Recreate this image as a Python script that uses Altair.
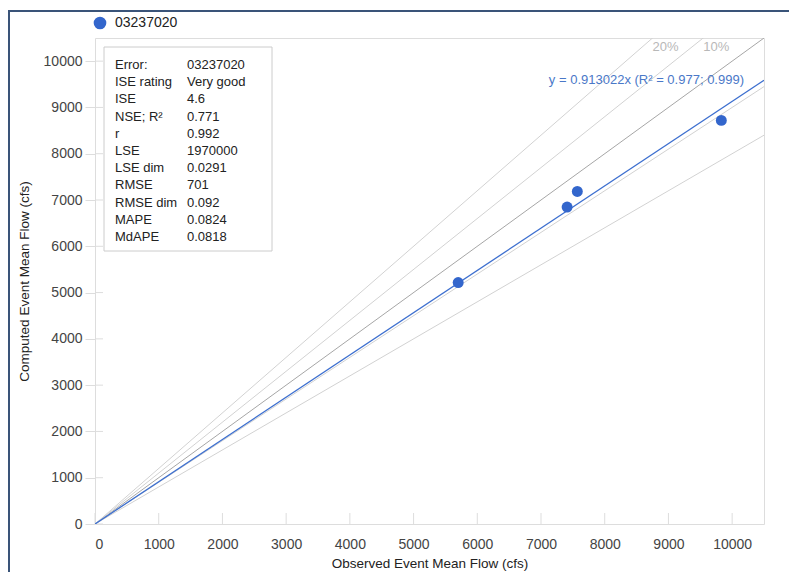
import altair as alt
import pandas as pd

# ---------------- data ----------------
site = "03237020"
observed = [5700, 7410, 7570, 9830]
computed = [5217, 6848, 7185, 8720]

ref_slopes = [0.8, 0.9, 1.0, 1.1, 1.2]
ref_colors = ["#d2d2d2", "#d2d2d2", "#a6a6a6", "#d2d2d2", "#d2d2d2"]
pct_slopes = [1.2, 1.1]
pct_labels = ["20%", "10%"]

fit_slope = 0.913022
fit_label = "y = 0.913022x (R\u00b2 = 0.977; 0.999)"

axis_max = 10500
tick_values = [0, 1000, 2000, 3000, 4000, 5000, 6000, 7000, 8000, 9000, 10000]

stat_names = ["Error:", "ISE rating", "ISE", "NSE; R\u00b2", "r", "LSE", "LSE dim",
              "RMSE", "RMSE dim", "MAPE", "MdAPE"]
stat_values = ["03237020", "Very good", "4.6", "0.771", "0.992", "1970000", "0.0291",
               "701", "0.092", "0.0824", "0.0818"]

# ---------------- tables ----------------
pts = pd.DataFrame({"obs": observed, "comp": computed, "site": [site] * len(observed)})

line_rows = []
for s, c in zip(ref_slopes, ref_colors):
    line_rows.append({"slope": s, "obs": 0, "comp": 0, "lc": c})
    line_rows.append({"slope": s, "obs": axis_max, "comp": s * axis_max, "lc": c})
lines = pd.DataFrame(line_rows)

fit = pd.DataFrame({"obs": [0, axis_max], "comp": [0, fit_slope * axis_max]})
fit_lab = pd.DataFrame({"obs": [axis_max], "comp": [fit_slope * axis_max], "t": [fit_label]})
pct = pd.DataFrame({"obs": [axis_max / s for s in pct_slopes],
                    "comp": [axis_max] * len(pct_slopes), "t": pct_labels})
ticks_df = pd.DataFrame({"v": tick_values})
stats = pd.DataFrame({"row": list(range(len(stat_names))), "name": stat_names, "val": stat_values})
one = pd.DataFrame({"a": [0]})

FONT = "Arial"
xs = alt.Scale(domain=[0, axis_max], nice=False, zero=False)
ys = alt.Scale(domain=[0, axis_max], nice=False, zero=False)

x_axis = alt.Axis(values=tick_values, format="d", title="Observed Event Mean Flow (cfs)",
                  grid=False, domain=False, ticks=False, labelPadding=13, labelFontSize=14,
                  labelColor="#444444", titleFontSize=13.5, titleFontWeight="normal",
                  titleColor="#222222", titlePadding=5, labelFont=FONT, titleFont=FONT)
y_axis = alt.Axis(values=tick_values, format="d", title="Computed Event Mean Flow (cfs)",
                  grid=False, domain=False, ticks=True, tickSize=10, tickColor="#dddddd",
                  labelPadding=3, labelFontSize=14, labelColor="#444444",
                  titleFontSize=13.5, titleFontWeight="normal", titleColor="#222222",
                  titlePadding=12, labelFont=FONT, titleFont=FONT)

X = alt.X("obs:Q", scale=xs, axis=x_axis)
Y = alt.Y("comp:Q", scale=ys, axis=y_axis)

ref_layer = alt.Chart(lines).mark_line(clip=True, strokeWidth=1).encode(
    x=X, y=Y, detail="slope:N", stroke=alt.Stroke("lc:N", scale=None))

fit_layer = alt.Chart(fit).mark_line(clip=True, strokeWidth=1.3, color="#3d6fcf").encode(
    x=alt.X("obs:Q", scale=xs), y=alt.Y("comp:Q", scale=ys))

pt_layer = alt.Chart(pts).mark_point(filled=True, size=120, opacity=1).encode(
    x=alt.X("obs:Q", scale=xs), y=alt.Y("comp:Q", scale=ys),
    color=alt.Color("site:N", scale=alt.Scale(range=["#3366cc"]),
                    legend=alt.Legend(orient="none", legendX=-2, legendY=-22, title=None,
                                      symbolType="circle", symbolSize=160, labelFontSize=14,
                                      labelColor="#222222", labelFont=FONT, labelOffset=8,
                                      padding=0, symbolStrokeWidth=0, symbolOpacity=1)))

fit_text = alt.Chart(fit_lab).mark_text(align="right", baseline="middle", dx=-20, dy=0,
                                        fontSize=13, color="#4a78c8", font=FONT).encode(
    x=alt.X("obs:Q", scale=xs), y=alt.Y("comp:Q", scale=ys), text="t:N")

pct_text = alt.Chart(pct).mark_text(align="center", baseline="middle", dx=13, dy=9,
                                    fontSize=13, color="#b8b8b8", font=FONT).encode(
    x=alt.X("obs:Q", scale=xs), y=alt.Y("comp:Q", scale=ys), text="t:N")

xtick_layer = alt.Chart(ticks_df).mark_rule(color="#dddddd", strokeWidth=1).encode(
    x=alt.X("v:Q", scale=xs), y=alt.value(486), y2=alt.value(475))
ytick_layer = alt.Chart(ticks_df).mark_rule(color="#dddddd", strokeWidth=1).encode(
    y=alt.Y("v:Q", scale=ys), x=alt.value(0), x2=alt.value(8))

data_layers = alt.layer(xtick_layer, ytick_layer, ref_layer, fit_layer, pt_layer,
                        fit_text, pct_text)

# statistics box
box = alt.Chart(one).mark_rect(fill="white", stroke="#cccccc", strokeWidth=1).encode(
    x=alt.value(9), x2=alt.value(177), y=alt.value(9), y2=alt.value(213))
row_scale = alt.Scale(domain=[0, len(stat_names) - 1], range=[27, 199], nice=False, zero=False)
names_text = alt.Chart(stats).mark_text(align="left", baseline="middle", fontSize=13,
                                        color="#222222", font=FONT).encode(
    x=alt.value(20), y=alt.Y("row:Q", scale=row_scale, axis=None), text="name:N")
vals_text = alt.Chart(stats).mark_text(align="left", baseline="middle", fontSize=13,
                                       color="#222222", font=FONT).encode(
    x=alt.value(92), y=alt.Y("row:Q", scale=row_scale, axis=None), text="val:N")
stats_layers = alt.layer(box, names_text, vals_text)

# outer frame: left edge and top edge as thin filled bands
frame_left = alt.Chart(one).mark_rect(color="#3a5479", opacity=1).encode(
    x=alt.value(-87), x2=alt.value(-85), y=alt.value(-28), y2=alt.value(570))
frame_top = alt.Chart(one).mark_rect(color="#3a5479", opacity=1).encode(
    x=alt.value(-87), x2=alt.value(730), y=alt.value(-28), y2=alt.value(-26))

chart = alt.layer(data_layers, stats_layers, frame_left, frame_top).resolve_scale(
    y="independent"
).properties(
    width=669, height=486,
    autosize=alt.AutoSizeParams(type="none"),
    padding={"left": 87, "top": 30, "right": 25, "bottom": 48},
).configure_view(
    stroke="#e6e6e6", strokeWidth=1
).configure(
    font=FONT, background="white"
)

chart.save("out.html", embed_options={"renderer": "svg", "actions": False})
